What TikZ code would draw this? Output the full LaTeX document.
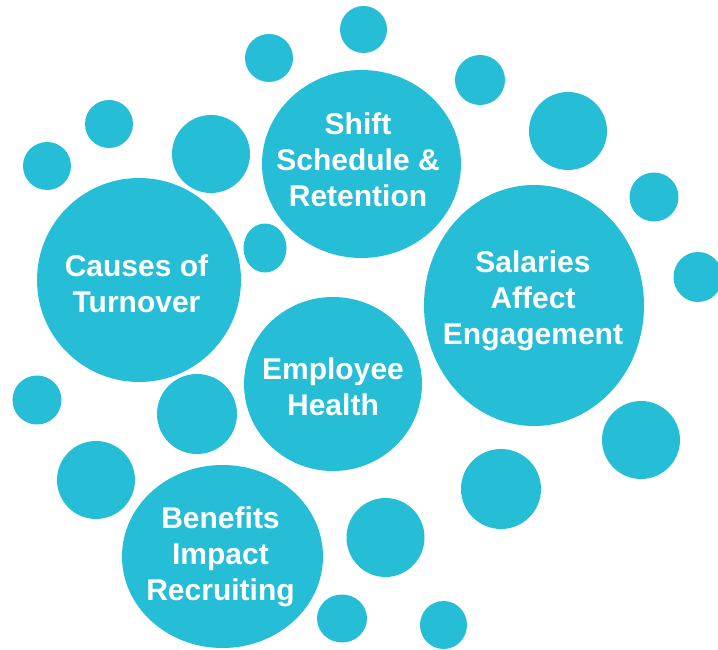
\documentclass[tikz,border=0pt]{standalone}
\usepackage{fontspec}
\setmainfont{Liberation Sans}
\usepackage{tikz}
\usetikzlibrary{shapes.geometric}
\definecolor{bubblecyan}{RGB}{38,189,214}

\begin{document}
\begin{tikzpicture}[
  x=1pt, y=-1pt,
  bubble/.style={ellipse, fill=bubblecyan, draw=none, inner sep=0pt, outer sep=0pt},
  bubbletext/.style={text=white, align=center, inner sep=0pt,
                     font=\fontsize{30}{36}\selectfont\bfseries}
]
\useasboundingbox (0,0) rectangle (718,650);

% --- small bubbles ------------------------------------------------------
\foreach \cx/\cy/\rx/\ry [count=\i] in {
    363.5/29.5/23.5/23.5, 269/58/24/24, 480/80/25/25, 568/131/39/39,
    109/124/24/24, 47/166/24/24, 211/154/39/39, 265/248/21.5/24.5,
    654/197/24.5/24.5, 698/277/24.5/25, 37/400/24.5/24.5, 197/414/40/40,
    96/480/39/39, 641/440/39/39, 501/489/40/40, 385.5/537.5/39/39.5,
    342/618.5/25/24, 443.5/625/23.5/24}{%
  \node[bubble, minimum width=2*\rx pt, minimum height=2*\ry pt] (dot\i) at (\cx,\cy) {};
}

% --- main bubbles -------------------------------------------------------
\node[bubble, minimum width=199pt, minimum height=188pt] (shift)    at (361.5,164) {};
\node[bubble, minimum width=204pt, minimum height=204pt] (causes)   at (139,280)   {};
\node[bubble, minimum width=220pt, minimum height=241pt] (salaries) at (534,305.5) {};
\node[bubble, minimum width=178pt, minimum height=174pt] (health)   at (333,384)   {};
\node[bubble, minimum width=201pt, minimum height=183pt] (benefits) at (222.5,556.5) {};

% --- bubble texts -------------------------------------------------------
\node[bubbletext] (shift-t)    at (358,160)     {Shift\\Schedule \&\\Retention};
\node[bubbletext] (causes-t)   at (136.5,283.5) {Causes of\\Turnover};
\node[bubbletext] (salaries-t) at (533,300.5)   {Salaries\\Affect\\Engagement};
\node[bubbletext] (health-t)   at (333,386.5)   {Employee\\Health};
\node[bubbletext] (benefits-t) at (220.5,556.5) {Benefits\\Impact\\Recruiting};

\end{tikzpicture}
\end{document}
